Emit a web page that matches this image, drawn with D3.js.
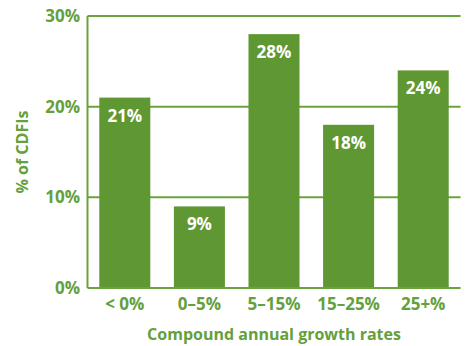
<!DOCTYPE html>
<html>
<head>
<meta charset="utf-8">
<script src="https://cdn.jsdelivr.net/npm/d3@7"></script>
<style>
  html, body { margin: 0; padding: 0; background: #fff; }
  svg text { font-family: "Open Sans", "DejaVu Sans", sans-serif; font-weight: 700; }
</style>
</head>
<body>
<svg id="chart" width="469" height="346"></svg>
<script>
const categories = ["< 0%", "0\u20135%", "5\u201315%", "15\u201325%", "25+%"];
const values = [21, 9, 28, 18, 24];
const yTicks = [0, 10, 20, 30];

const barColor = "#5f9833";
const lineColor = "#6aa33d";
const textColor = "#64a03c";

const svg = d3.select("#chart");
const margin = { left: 87.5, right: 8.5, top: 16, bottom: 58 };
const W = 469, H = 346;

const x = d3.scaleBand()
  .domain(categories)
  .range([margin.left, W - margin.right])
  .paddingInner(0.316)
  .paddingOuter(0.158);

const y = d3.scaleLinear()
  .domain([0, 30])
  .range([H - margin.bottom, margin.top]);

// horizontal gridlines
svg.append("g")
  .selectAll("line")
  .data(yTicks.filter(d => d > 0))
  .join("line")
  .attr("x1", margin.left)
  .attr("x2", W - margin.right)
  .attr("y1", d => y(d))
  .attr("y2", d => y(d))
  .attr("stroke", lineColor)
  .attr("stroke-width", 2);

// bars
svg.append("g")
  .selectAll("rect")
  .data(values)
  .join("rect")
  .attr("x", (d, i) => x(categories[i]))
  .attr("width", x.bandwidth())
  .attr("y", d => y(d))
  .attr("height", d => y(0) - y(d))
  .attr("fill", barColor);

// value labels inside bars
svg.append("g")
  .selectAll("text")
  .data(values)
  .join("text")
  .attr("x", (d, i) => x(categories[i]) + x.bandwidth() / 2)
  .attr("y", d => y(d) + 24)
  .attr("text-anchor", "middle")
  .attr("fill", "#fff")
  .attr("font-size", 17)
  .text(d => d + "%");

// y axis line and x baseline
svg.append("line")
  .attr("x1", margin.left).attr("x2", margin.left)
  .attr("y1", margin.top).attr("y2", y(0))
  .attr("stroke", lineColor).attr("stroke-width", 2);
svg.append("line")
  .attr("x1", margin.left).attr("x2", W - margin.right)
  .attr("y1", y(0)).attr("y2", y(0))
  .attr("stroke", lineColor).attr("stroke-width", 2);

// y tick labels
svg.append("g")
  .selectAll("text")
  .data(yTicks)
  .join("text")
  .attr("x", 80)
  .attr("y", d => y(d) + 6)
  .attr("text-anchor", "end")
  .attr("fill", textColor)
  .attr("font-size", 17)
  .text(d => d + "%");

// x tick labels
svg.append("g")
  .selectAll("text")
  .data(categories)
  .join("text")
  .attr("x", d => x(d) + x.bandwidth() / 2)
  .attr("y", y(0) + 22)
  .attr("text-anchor", "middle")
  .attr("fill", textColor)
  .attr("font-size", 17)
  .text(d => d);

// axis titles
svg.append("text")
  .attr("x", (margin.left + W - margin.right) / 2)
  .attr("y", 340)
  .attr("text-anchor", "middle")
  .attr("fill", textColor)
  .attr("font-size", 16)
  .text("Compound annual growth rates");

svg.append("text")
  .attr("transform", `translate(28, ${(margin.top + y(0)) / 2}) rotate(-90)`)
  .attr("text-anchor", "middle")
  .attr("fill", textColor)
  .attr("font-size", 16)
  .text("% of CDFIs");
</script>
</body>
</html>
